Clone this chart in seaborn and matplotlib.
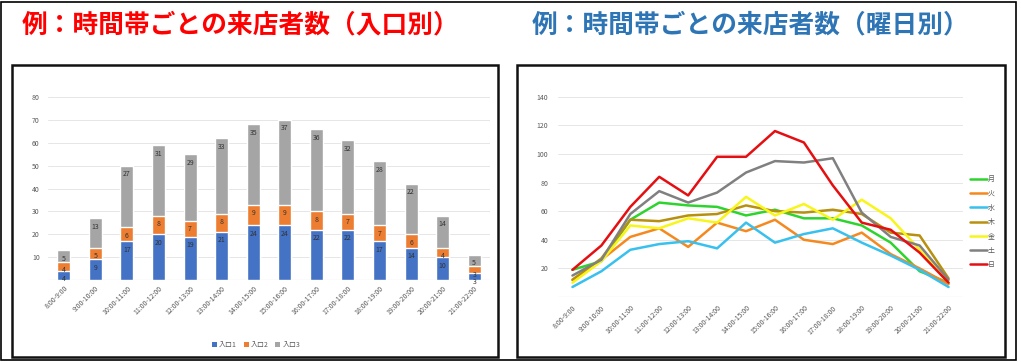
import numpy as np
import pandas as pd
import matplotlib
matplotlib.use("Agg")
import matplotlib.pyplot as plt
from matplotlib.patches import Rectangle, Patch
import seaborn as sns

# time slots shared by both charts
slots = ["8:00-9:00", "9:00-10:00", "10:00-11:00", "11:00-12:00", "12:00-13:00",
         "13:00-14:00", "14:00-15:00", "15:00-16:00", "16:00-17:00", "17:00-18:00",
         "18:00-19:00", "19:00-20:00", "20:00-21:00", "21:00-22:00"]

# left chart: visitors per entrance
entrance_names = ["入口1", "入口2", "入口3"]
entrance1 = [4, 9, 17, 20, 19, 21, 24, 24, 22, 22, 17, 14, 10, 3]
entrance2 = [4, 5, 6, 8, 7, 8, 9, 9, 8, 7, 7, 6, 4, 3]
entrance3 = [5, 13, 27, 31, 29, 33, 35, 37, 36, 32, 28, 22, 14, 5]
entrance_colors = ["#4472C4", "#ED7D31", "#A5A5A5"]

# right chart: visitors per weekday
days = ["月", "火", "水", "木", "金", "土", "日"]
mon = [19, 25, 54, 66, 64, 63, 57, 61, 55, 55, 50, 38, 18, 10]
tue = [12, 26, 42, 48, 35, 52, 46, 54, 40, 37, 45, 30, 20, 9]
wed = [7, 18, 33, 37, 39, 34, 52, 38, 44, 48, 38, 29, 19, 7]
thu = [12, 27, 54, 53, 57, 58, 64, 60, 59, 61, 58, 45, 43, 13]
fri = [10, 25, 50, 48, 55, 52, 70, 57, 65, 54, 68, 55, 33, 10]
sat = [15, 26, 58, 74, 66, 73, 87, 95, 94, 97, 59, 42, 36, 12]
sun = [19, 36, 63, 84, 71, 98, 98, 116, 108, 78, 52, 47, 31, 10]
day_colors = ["#2ED42E", "#F5891F", "#38C0EE", "#B8900F", "#F8F51A", "#808080", "#E50F12"]

sns.set_style("white")
plt.rcParams["font.family"] = ["Noto Sans CJK JP", "DejaVu Sans"]

W, H = 1021, 362
fig = plt.figure(figsize=(W / 100, H / 100), dpi=100)


def px(x0, y0, x1, y1):
    # pixel box (top-left origin) -> figure fraction rect
    return [x0 / W, 1 - y1 / H, (x1 - x0) / W, (y1 - y0) / H]


# frames
fig.patches.append(Rectangle((1 / W, 1 - 360 / H), 1015 / W, 358 / H, transform=fig.transFigure,
                             fill=False, edgecolor="black", lw=1.2))
for bx in [(12, 65, 498, 357), (517, 65, 1005, 357)]:
    fig.patches.append(Rectangle((bx[0] / W, 1 - bx[3] / H), (bx[2] - bx[0]) / W, (bx[3] - bx[1]) / H,
                                 transform=fig.transFigure, fill=False, edgecolor="#111111", lw=1.8))

fig.text(22 / W, 1 - 25 / H, "例：時間帯ごとの来店者数（入口別）", color="#FF0000",
         fontsize=18.5, fontweight="bold", va="center", ha="left")
fig.text(532 / W, 1 - 25 / H, "例：時間帯ごとの来店者数（曜日別）", color="#2E75B6",
         fontsize=18.5, fontweight="bold", va="center", ha="left")

grid_color = "#E6E6E6"
tick_color = "#595959"

# ---- left: stacked bars (drawn as overlapping cumulative bars) ----
ax1 = fig.add_axes(px(48, 97, 490, 280))
e1 = np.array(entrance1)
e2 = np.array(entrance2)
e3 = np.array(entrance3)
stack_tops = [e1 + e2 + e3, e1 + e2, e1]
seg_values = [e3, e2, e1]
seg_colors = [entrance_colors[2], entrance_colors[1], entrance_colors[0]]
for tops, vals, col in zip(stack_tops, seg_values, seg_colors):
    sns.barplot(x=slots, y=tops, color=col, saturation=1, width=0.41, errorbar=None, ax=ax1, zorder=2)
    ax1.bar_label(ax1.containers[-1], labels=[str(v) for v in vals], padding=-9,
                  fontsize=5, color="#333333")
ax1.set_ylim(0, 80)
ax1.set_xlim(-0.5, len(slots) - 0.5)
ax1.set_yticks(range(10, 81, 10))
ax1.yaxis.grid(True, color=grid_color, lw=0.7)
ax1.axhline(0, color=grid_color, lw=0.9, zorder=1)
ax1.set_axisbelow(True)
sns.despine(ax=ax1, left=True, bottom=True)
ax1.tick_params(axis="both", length=0, labelsize=5, colors=tick_color)
ax1.tick_params(axis="y", pad=6)
ax1.set_xticks(range(len(slots)))
ax1.set_xticklabels(slots, rotation=45, ha="right", rotation_mode="anchor")
ax1.tick_params(axis="x", pad=3)

handles = [Patch(facecolor=c, edgecolor="none", label=n) for c, n in zip(entrance_colors, entrance_names)]
fig.legend(handles=handles, loc="center", bbox_to_anchor=(256 / W, 1 - 345 / H), ncol=3, frameon=False,
           fontsize=5, handlelength=0.7, handleheight=0.7, handletextpad=0.3, columnspacing=1.0,
           labelcolor=tick_color)

# ---- right: line per weekday ----
ax2 = fig.add_axes(px(558, 96.7, 963, 297))
day_series = [mon, tue, wed, thu, fri, sat, sun]
long = pd.DataFrame({
    "slot": slots * len(days),
    "count": np.concatenate(day_series),
    "day": np.repeat(days, len(slots)),
})
sns.lineplot(data=long, x="slot", y="count", hue="day", hue_order=days,
             palette=dict(zip(days, day_colors)), linewidth=1.8, sort=False, ax=ax2, zorder=3)
ax2.set_ylim(0, 140)
ax2.set_xlim(-0.5, len(slots) - 0.5)
ax2.set_yticks(range(20, 141, 20))
ax2.yaxis.grid(True, color=grid_color, lw=0.7)
ax2.axhline(0, color=grid_color, lw=0.9, zorder=1)
ax2.set_axisbelow(True)
sns.despine(ax=ax2, left=True, bottom=True)
ax2.set_xlabel("")
ax2.set_ylabel("")
ax2.tick_params(axis="both", length=0, labelsize=5, colors=tick_color)
ax2.tick_params(axis="y", pad=7)
ax2.set_xticks(range(len(slots)))
ax2.set_xticklabels(slots, rotation=45, ha="right", rotation_mode="anchor")
ax2.tick_params(axis="x", pad=5)
ax2.legend(loc="center left", bbox_to_anchor=(1.0, 0.374), frameon=False, fontsize=5,
           handlelength=2.4, handletextpad=0.1, labelspacing=0.9, borderaxespad=0.6,
           labelcolor=tick_color)

fig.savefig("out.png", dpi=100, facecolor="white")
